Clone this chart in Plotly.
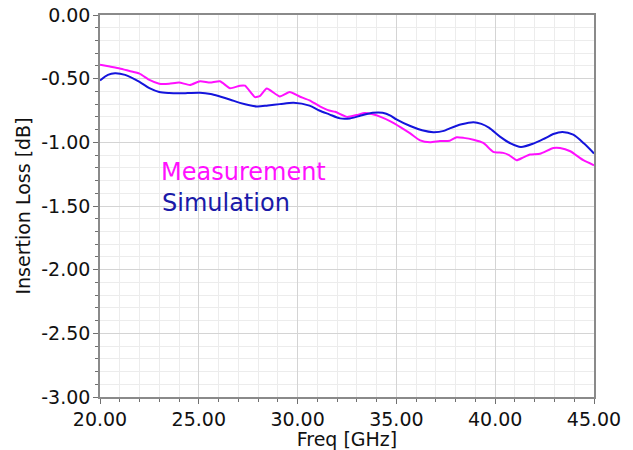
import plotly.graph_objects as go

meas_freq = [20.0, 20.5, 21.0, 21.5, 22.0, 22.5, 23.0, 23.5, 24.0, 24.55, 25.06, 25.57, 26.07,
             26.58, 27.08, 27.34, 27.84, 28.1, 28.44, 29.1, 29.6, 30.1, 30.6, 31.1, 31.6, 31.9,
             32.5, 33.0, 33.4, 33.8, 34.2, 34.7, 35.2, 35.7, 36.2, 36.7, 37.2, 37.7, 38.05, 38.4,
             38.9, 39.4, 39.9, 40.4, 40.7, 41.09, 41.4, 41.76, 42.27, 42.94, 43.28, 43.8, 44.46, 45.0]
meas_loss = [-0.39, -0.405, -0.42, -0.44, -0.46, -0.51, -0.54, -0.54, -0.53, -0.55, -0.52, -0.53, -0.52,
             -0.575, -0.555, -0.555, -0.645, -0.635, -0.577, -0.64, -0.605, -0.64, -0.67, -0.715, -0.75, -0.76,
             -0.80, -0.785, -0.77, -0.78, -0.80, -0.835, -0.88, -0.93, -0.985, -1.0, -0.99, -0.987, -0.96, -0.965,
             -0.98, -1.005, -1.075, -1.083, -1.1, -1.14, -1.12, -1.096, -1.09, -1.044, -1.044, -1.07, -1.14, -1.18]

sim_freq = [20.0, 20.4, 20.76, 21.27, 22.0, 22.5, 23.0, 23.5, 24.05, 25.06, 25.6, 26.07, 26.6, 27.08,
            27.93, 28.5, 29.1, 29.8, 30.6, 31.1, 31.6, 32.15, 32.65, 33.2, 33.8, 34.3, 34.7, 35.0, 35.7,
            36.3, 36.87, 37.4, 37.7, 38.3, 38.9, 39.3, 39.7, 40.24, 40.8, 41.3, 41.93, 42.5, 42.94, 43.4,
            43.95, 44.5, 45.0]
sim_loss = [-0.515, -0.47, -0.457, -0.47, -0.525, -0.575, -0.605, -0.613, -0.615, -0.61, -0.62, -0.64,
            -0.665, -0.69, -0.718, -0.71, -0.70, -0.69, -0.712, -0.75, -0.78, -0.812, -0.812, -0.79, -0.768,
            -0.768, -0.79, -0.82, -0.872, -0.905, -0.92, -0.91, -0.89, -0.858, -0.842, -0.855, -0.887,
            -0.955, -1.01, -1.036, -1.01, -0.97, -0.935, -0.918, -0.94, -1.01, -1.088]

x_ticks = [20, 25, 30, 35, 40, 45]
x_tick_text = ["20.00", "25.00", "30.00", "35.00", "40.00", "45.00"]
y_ticks = [0, -0.5, -1.0, -1.5, -2.0, -2.5, -3.0]
y_tick_text = ["0.00", "-0.50", "-1.00", "-1.50", "-2.00", "-2.50", "-3.00"]

MAG = "#ff10ff"
BLUE = "#1414dc"
FONT = "DejaVu Sans"

fig = go.Figure()
fig.add_trace(go.Scatter(x=meas_freq, y=meas_loss, mode="lines", name="Measurement",
                         line=dict(color=MAG, width=2, shape="spline", smoothing=0.5)))
fig.add_trace(go.Scatter(x=sim_freq, y=sim_loss, mode="lines", name="Simulation",
                         line=dict(color=BLUE, width=2, shape="spline", smoothing=0.8)))

fig.add_annotation(x=23.0, y=-1.23, xref="x", yref="y", text="Measurement", showarrow=False,
                   xanchor="left", yanchor="middle", font=dict(family=FONT, size=24, color=MAG))
fig.add_annotation(x=23.05, y=-1.48, xref="x", yref="y", text="Simulation", showarrow=False,
                   xanchor="left", yanchor="middle", font=dict(family=FONT, size=24, color="#1a1aa8"))

axis_common = dict(showline=True, linecolor="#8a8a8a", linewidth=1.5, mirror=True,
                   showgrid=True, gridcolor="#d4d4d4", gridwidth=1,
                   ticks="outside", ticklen=5, tickcolor="#707070", tickwidth=1,
                   zeroline=False, ticklabeloverflow="allow",
                   tickfont=dict(family=FONT, size=19, color="#111111"))

fig.update_xaxes(range=[20, 45], tickvals=x_ticks, ticktext=x_tick_text, ticklabelstandoff=-1,
                 minor=dict(dtick=1, showgrid=True, gridcolor="#ececec", ticks="outside",
                            ticklen=3, tickcolor="#707070"),
                 title=dict(text="Freq [GHz]", font=dict(family=FONT, size=19, color="#111111"), standoff=0),
                 **axis_common)
fig.update_yaxes(range=[-3, 0], tickvals=y_ticks, ticktext=y_tick_text, ticklabelstandoff=-1,
                 minor=dict(dtick=0.1, showgrid=True, gridcolor="#ececec", ticks="outside",
                            ticklen=3, tickcolor="#707070"),
                 title=dict(text="Insertion Loss [dB]", font=dict(family=FONT, size=19, color="#111111"), standoff=6),
                 **axis_common)

fig.update_layout(width=633, height=450, margin=dict(l=100, r=39, t=15, b=53, autoexpand=False),
                  paper_bgcolor="white", plot_bgcolor="white", showlegend=False)

# remove the page's default 8px body margin so the figure fills the window exactly
fig.write_html("out.html", config={"displayModeBar": False},
               post_script="document.body.style.margin='0px';")
